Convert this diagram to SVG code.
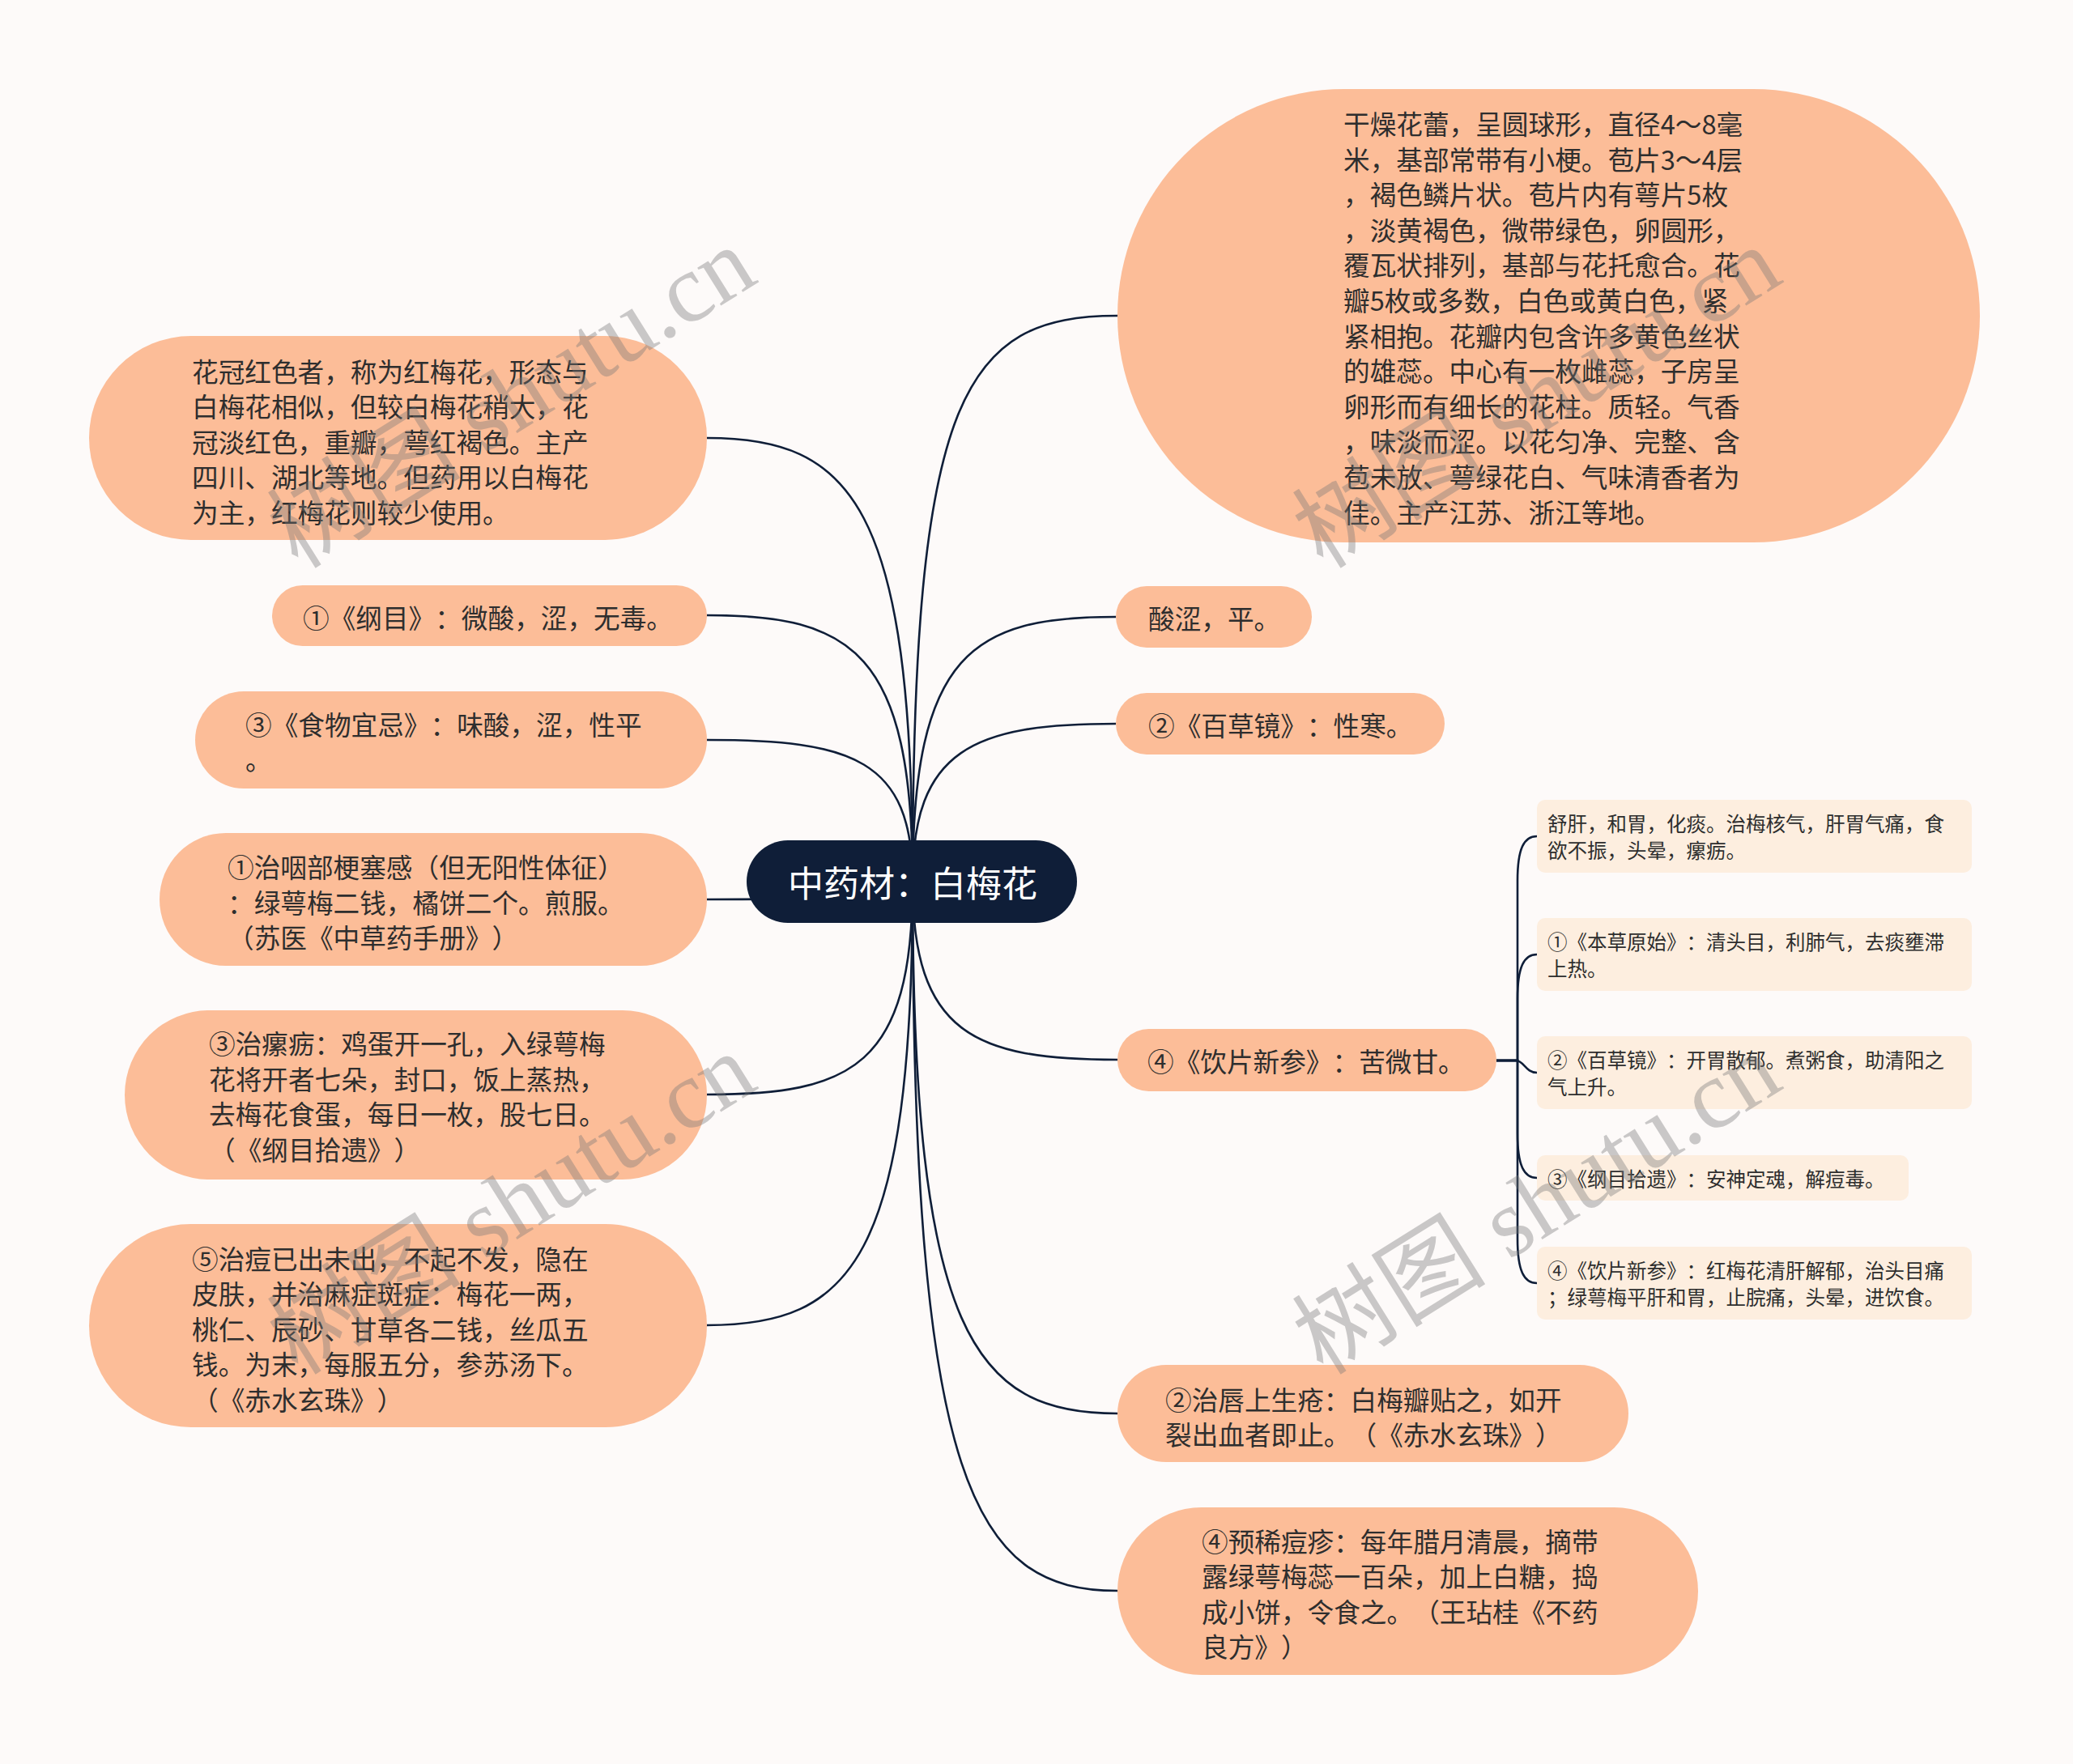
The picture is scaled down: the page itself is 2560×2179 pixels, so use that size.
<svg xmlns="http://www.w3.org/2000/svg" width="2560" height="2179" viewBox="0 0 2560 2179">
<style>
text{text-spacing-trim:space-all}
.t{font-family:"Noto Sans CJK SC","Noto Sans",sans-serif;font-size:32.65px;fill:#2e2e2e;dominant-baseline:central}
.s{font-family:"Noto Sans CJK SC","Noto Sans",sans-serif;font-size:24.5px;fill:#2e2e2e;dominant-baseline:central}
.n{fill:#fcbd98}
.sn{fill:#fdeedf}
.c{fill:none;stroke:#0f1e38;stroke-width:2.6}
.wm{font-family:"Liberation Serif","Noto Sans CJK SC",serif;font-size:120px;fill:#777;opacity:0.38}
</style>
<rect x="0" y="0" width="2560" height="2179" fill="#fdfaf9"/>
<g id="connectors">
<path class="c" d="M1127 1089 C1127 489 1190 390 1380 390"/>
<path class="c" d="M1127 1089 C1127 806 1202 762 1378 762"/>
<path class="c" d="M1127 1089 C1127 926 1202 894 1378 894"/>
<path class="c" d="M1127 1089 C1127 1276 1203 1309 1380 1309"/>
<path class="c" d="M1127 1089 C1127 1648 1203 1746 1380 1746"/>
<path class="c" d="M1127 1089 C1127 1834 1203 1965 1380 1965"/>
<path class="c" d="M1127 1089 C1127 623 1051 541 873 541"/>
<path class="c" d="M1127 1089 C1127 804 1051 760 873 760"/>
<path class="c" d="M1127 1089 C1127 937 1051 914 873 914"/>
<path class="c" d="M1127 1089 C1127 1108 1051 1111 873 1111"/>
<path class="c" d="M1127 1089 C1127 1318 1051 1352 873 1352"/>
<path class="c" d="M1127 1089 C1127 1557 1051 1637 873 1637"/>
<path class="c" d="M1848 1310 H1874 V1088 C1874 1048 1882 1033 1898 1033"/>
<path class="c" d="M1848 1310 H1874 V1234 C1874 1194 1882 1179 1898 1179"/>
<path class="c" d="M1848 1310 H1872 C1882 1310 1884 1325 1898 1325"/>
<path class="c" d="M1848 1310 H1874 V1400 C1874 1440 1882 1455 1898 1455"/>
<path class="c" d="M1848 1310 H1874 V1530 C1874 1570 1882 1585 1898 1585"/>
</g>
<g id="root">
<rect x="922" y="1038" width="408" height="102" rx="51" fill="#0f1e38"/>
<text x="1127" y="1089" text-anchor="middle" style="font-family:'Noto Sans CJK SC','Noto Sans',sans-serif;font-size:44px;fill:#ffffff;dominant-baseline:central">中药材：白梅花</text>
</g>
<g id="n-desc">
<rect class="n" x="1380" y="110" width="1065" height="560" rx="280"/>
<text class="t" x="1659" y="151.5">干燥花蕾，呈圆球形，直径4～8毫</text>
<text class="t" x="1659" y="195.1">米，基部常带有小梗。苞片3～4层</text>
<text class="t" x="1659" y="238.7">，褐色鳞片状。苞片内有萼片5枚</text>
<text class="t" x="1659" y="282.3">，淡黄褐色，微带绿色，卵圆形，</text>
<text class="t" x="1659" y="325.9">覆瓦状排列，基部与花托愈合。花</text>
<text class="t" x="1659" y="369.5">瓣5枚或多数，白色或黄白色，紧</text>
<text class="t" x="1659" y="413.1">紧相抱。花瓣内包含许多黄色丝状</text>
<text class="t" x="1659" y="456.7">的雄蕊。中心有一枚雌蕊，子房呈</text>
<text class="t" x="1659" y="500.3">卵形而有细长的花柱。质轻。气香</text>
<text class="t" x="1659" y="543.9">，味淡而涩。以花匀净、完整、含</text>
<text class="t" x="1659" y="587.5">苞未放、萼绿花白、气味清香者为</text>
<text class="t" x="1659" y="631.1">佳。主产江苏、浙江等地。</text>
</g>
<g id="n-taste">
<rect class="n" x="1378" y="724" width="242" height="76" rx="38"/>
<text class="t" x="1418" y="762">酸涩，平。</text>
</g>
<g id="n-baicao">
<rect class="n" x="1378" y="856" width="406" height="76" rx="38"/>
<text class="t" x="1418" y="894">②《百草镜》：性寒。</text>
</g>
<g id="n-yinpian">
<rect class="n" x="1380" y="1271" width="468" height="77" rx="38.5"/>
<text class="t" x="1417" y="1309">④《饮片新参》：苦微甘。</text>
</g>
<g id="s1">
<rect class="sn" x="1898" y="988" width="537" height="90" rx="10"/>
<text class="s" x="1911" y="1016.5">舒肝，和胃，化痰。治梅核气，肝胃气痛，食</text>
<text class="s" x="1911" y="1049.5">欲不振，头晕，瘰疬。</text>
</g>
<g id="s2">
<rect class="sn" x="1898" y="1134" width="537" height="90" rx="10"/>
<text class="s" x="1911" y="1162.5">①《本草原始》：清头目，利肺气，去痰壅滞</text>
<text class="s" x="1911" y="1195.5">上热。</text>
</g>
<g id="s3">
<rect class="sn" x="1898" y="1280" width="537" height="90" rx="10"/>
<text class="s" x="1911" y="1308.5">②《百草镜》：开胃散郁。煮粥食，助清阳之</text>
<text class="s" x="1911" y="1341.5">气上升。</text>
</g>
<g id="s4">
<rect class="sn" x="1898" y="1427" width="459" height="56" rx="10"/>
<text class="s" x="1911" y="1455">③《纲目拾遗》：安神定魂，解痘毒。</text>
</g>
<g id="s5">
<rect class="sn" x="1898" y="1540" width="537" height="90" rx="10"/>
<text class="s" x="1911" y="1568.5">④《饮片新参》：红梅花清肝解郁，治头目痛</text>
<text class="s" x="1911" y="1601.5">；绿萼梅平肝和胃，止脘痛，头晕，进饮食。</text>
</g>
<g id="n-lip">
<rect class="n" x="1380" y="1686" width="631" height="120" rx="60"/>
<text class="t" x="1439" y="1727">②治唇上生疮：白梅瓣贴之，如开</text>
<text class="t" x="1439" y="1770.6">裂出血者即止。（《赤水玄珠》）</text>
</g>
<g id="n-pox">
<rect class="n" x="1380" y="1862" width="717" height="207" rx="103.5"/>
<text class="t" x="1484" y="1902">④预稀痘疹：每年腊月清晨，摘带</text>
<text class="t" x="1484" y="1945.6">露绿萼梅蕊一百朵，加上白糖，捣</text>
<text class="t" x="1484" y="1989.2">成小饼，令食之。（王玷桂《不药</text>
<text class="t" x="1484" y="2032.8">良方》）</text>
</g>
<g id="n-red">
<rect class="n" x="110" y="415" width="763" height="252" rx="126"/>
<text class="t" x="237" y="457">花冠红色者，称为红梅花，形态与</text>
<text class="t" x="237" y="500.6">白梅花相似，但较白梅花稍大，花</text>
<text class="t" x="237" y="544.2">冠淡红色，重瓣，萼红褐色。主产</text>
<text class="t" x="237" y="587.8">四川、湖北等地。但药用以白梅花</text>
<text class="t" x="237" y="631.4">为主，红梅花则较少使用。</text>
</g>
<g id="n-gangmu">
<rect class="n" x="336" y="723" width="537" height="75" rx="37.5"/>
<text class="t" x="374" y="761">①《纲目》：微酸，涩，无毒。</text>
</g>
<g id="n-shiwu">
<rect class="n" x="241" y="854" width="632" height="120" rx="60"/>
<text class="t" x="303" y="893">③《食物宜忌》：味酸，涩，性平</text>
<text class="t" x="303" y="936.6">。</text>
</g>
<g id="n-throat">
<rect class="n" x="197" y="1029" width="676" height="164" rx="82"/>
<text class="t" x="281" y="1069.5">①治咽部梗塞感（但无阳性体征）</text>
<text class="t" x="281" y="1113.1">：绿萼梅二钱，橘饼二个。煎服。</text>
<text class="t" x="281" y="1156.7">（苏医《中草药手册》）</text>
</g>
<g id="n-scrofula">
<rect class="n" x="154" y="1248" width="719" height="209" rx="104.5"/>
<text class="t" x="258" y="1287.5">③治瘰疬：鸡蛋开一孔，入绿萼梅</text>
<text class="t" x="258" y="1331.1">花将开者七朵，封口，饭上蒸热，</text>
<text class="t" x="258" y="1374.7">去梅花食蛋，每日一枚，股七日。</text>
<text class="t" x="258" y="1418.3">（《纲目拾遗》）</text>
</g>
<g id="n-pox2">
<rect class="n" x="110" y="1512" width="763" height="251" rx="125.5"/>
<text class="t" x="237" y="1553">⑤治痘已出未出，不起不发，隐在</text>
<text class="t" x="237" y="1596.6">皮肤，并治麻症斑症：梅花一两，</text>
<text class="t" x="237" y="1640.2">桃仁、辰砂、甘草各二钱，丝瓜五</text>
<text class="t" x="237" y="1683.8">钱。为末，每服五分，参苏汤下。</text>
<text class="t" x="237" y="1727.4">（《赤水玄珠》）</text>
</g>
<g id="watermarks">
<text class="wm" transform="translate(368 704) rotate(-32)">树图 shutu.cn</text>
<text class="wm" transform="translate(1634 704) rotate(-32)">树图 shutu.cn</text>
<text class="wm" transform="translate(368 1700) rotate(-32)">树图 shutu.cn</text>
<text class="wm" transform="translate(1634 1700) rotate(-32)">树图 shutu.cn</text>
</g>
</svg>
